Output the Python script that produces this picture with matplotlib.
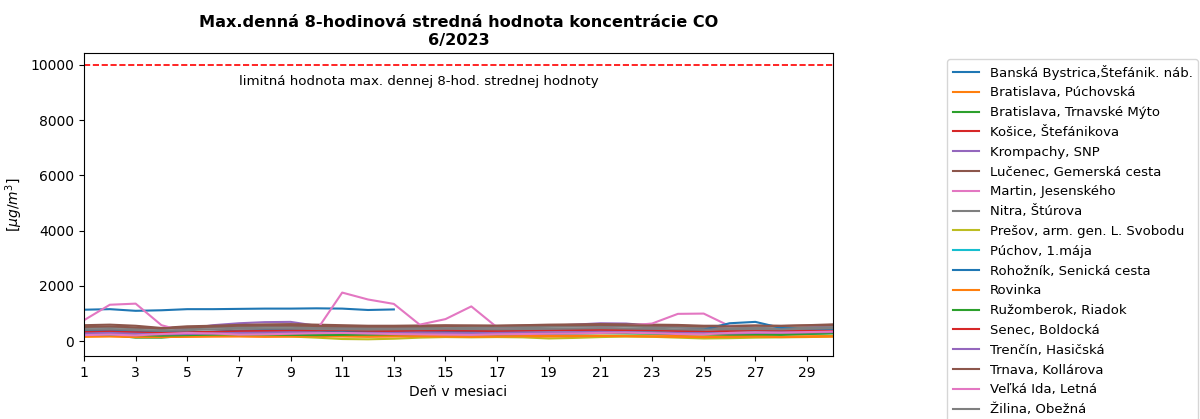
import numpy as np
import matplotlib
matplotlib.use('Agg')
import matplotlib.pyplot as plt

nan = np.nan
days = list(range(1, 31))

stations = [
    'Banská Bystrica,Štefánik. náb.',
    'Bratislava, Púchovská',
    'Bratislava, Trnavské Mýto',
    'Košice, Štefánikova',
    'Krompachy, SNP',
    'Lučenec, Gemerská cesta',
    'Martin, Jesenského',
    'Nitra, Štúrova',
    'Prešov, arm. gen. L. Svobodu',
    'Púchov, 1.mája',
    'Rohožník, Senická cesta',
    'Rovinka',
    'Ružomberok, Riadok',
    'Senec, Boldocká',
    'Trenčín, Hasičská',
    'Trnava, Kollárova',
    'Veľká Ida, Letná',
    'Žilina, Obežná',
]

# max daily 8-hour mean CO [ug/m3], June 2023
banska_bystrica = [1140, 1160, 1100, 1120, 1160, 1160, 1170, 1180, 1180, 1190, 1180, 1130, 1150] + [nan] * 17
ba_puchovska = [180, 190, 170, 160, 170, 180, 190, 180, 190, 200, 190, 180, 190, 200, 190, 180, 190, 200, 190, 200, 200, 190, 180, 190, 170, 180, 190, 170, 180, 190]
ba_trnavske = [250, 230, 130, 130, 200, 240, 260, 270, 260, 280, 270, 250, 260, 270, 260, 250, 270, 280, 290, 300, 310, 330, 350, 300, 260, 250, 240, 230, 260, 280]
kosice = [300, 320, 280, 270, 300, 330, 380, 400, 420, 440, 450, 420, 430, 420, 410, 400, 420, 430, 410, 420, 430, 440, 420, 380, 350, 330, 320, 340, 350, 330]
krompachy = [350, 380, 340, 300, 450, 580, 650, 690, 700, 560, 480, 430, 420, 430, 460, 480, 500, 520, 560, 600, 650, 640, 560, 500, 460, 440, 420, 450, 500, 520]
lucenec = [580, 600, 560, 480, 540, 560, 590, 610, 620, 600, 580, 560, 560, 570, 580, 570, 560, 580, 600, 610, 620, 610, 600, 590, 560, 560, 570, 560, 580, 610]
martin = [760, 1320, 1360, 580, 330, 300, 310, 330, 350, 380, 1760, 1510, 1350, 600, 800, 1260, 500, 460, 440, 450, 480, 560, 640, 990, 1000, 550, 480, 430, 460, 500]
nitra = [480, 500, 470, 440, 470, 490, 510, 520, 520, 500, 490, 480, 490, 500, 520, 510, 500, 510, 520, 530, 540, 530, 510, 500, 480, 470, 480, 470, 490, 510]
presov = [200, 210, 180, 170, 190, 200, 210, 190, 170, 130, 80, 70, 90, 130, 150, 140, 150, 140, 100, 120, 150, 170, 160, 130, 100, 110, 130, 140, 150, 170]
puchov = [300, 310, 290, 270, 260, 250, 280, 300, 310, 300, 290, 280, 270, 280, 300, 310, 300, 290, 280, 290, 300, 310, 300, 290, 280, 300, 320, 310, 290, 300]
rohoznik = [400, 420, 380, 340, 320, 350, 380, 400, 400, 380, 360, 340, 330, 340, 350, 360, 370, 380, 390, 400, 420, 430, 420, 400, 420, 650, 700, 480, 420, 440]
rovinka = [160, 170, 150, 150, 160, 170, 170, 160, 170, 180, 170, 160, 170, 180, 170, 160, 170, 180, 170, 180, 190, 180, 170, 160, 150, 160, 170, 150, 160, 170]
ruzomberok = [230, 240, 220, 200, 220, 240, 250, 240, 230, 220, 230, 240, 250, 260, 270, 260, 250, 260, 270, 280, 290, 280, 270, 260, 250, 240, 250, 260, 280, 300]
senec = [330, 350, 320, 300, 320, 340, 360, 370, 380, 390, 400, 380, 370, 380, 390, 380, 370, 380, 390, 400, 410, 400, 390, 370, 350, 380, 400, 390, 380, 370]
trencin = [280, 300, 270, 250, 260, 280, 300, 310, 320, 310, 300, 290, 300, 310, 300, 290, 300, 310, 320, 330, 340, 330, 320, 300, 290, 280, 300, 310, 320, 330]
trnava = [520, 540, 500, 470, 500, 530, 560, 570, 570, 550, 540, 530, 530, 540, 550, 560, 560, 570, 580, 580, 590, 580, 570, 560, 540, 540, 560, 550, 570, 590]
velka_ida = [220, 240, 210, 260, 300, 280, 240, 250, 270, 290, 300, 280, 260, 250, 240, 230, 250, 260, 270, 280, 300, 310, 290, 260, 250, 300, 320, 310, 330, 350]
zilina = [420, 440, 410, 380, 400, 430, 450, 460, 460, 440, 430, 420, 430, 440, 450, 440, 430, 440, 450, 460, 470, 460, 450, 430, 420, 430, 440, 430, 450, 470]

series = [banska_bystrica, ba_puchovska, ba_trnavske, kosice, krompachy, lucenec,
          martin, nitra, presov, puchov, rohoznik, rovinka, ruzomberok, senec,
          trencin, trnava, velka_ida, zilina]

limit_value = 10000
limit_text = 'limitná hodnota max. dennej 8-hod. strednej hodnoty'

fig = plt.figure(figsize=(12, 4.19), dpi=100)
ax = fig.add_axes([0.07, 0.15, 0.624, 0.723])

for name, vals in zip(stations, series):
    ax.plot(days, vals, label=name)

ax.axhline(limit_value, color='red', linestyle='--', linewidth=1.2)
ax.text(7, 9380, limit_text, ha='left', va='center', fontsize=9.6)

ax.set_xlim(1, 30)
ax.set_ylim(-540, 10420)
ax.set_xticks(range(1, 30, 2))
ax.set_xlabel('Deň v mesiaci')
ax.set_ylabel(r'[$\mu g/m^3$]')
ax.set_title('Max.denná 8-hodinová stredná hodnota koncentrácie CO\n6/2023',
             fontweight='bold', fontsize=11.6)

fig.legend(loc='upper left', bbox_to_anchor=(0.784, 0.874), fontsize=9.5,
           labelspacing=0.515, handlelength=2.0)

fig.savefig('out.png', dpi=100)
